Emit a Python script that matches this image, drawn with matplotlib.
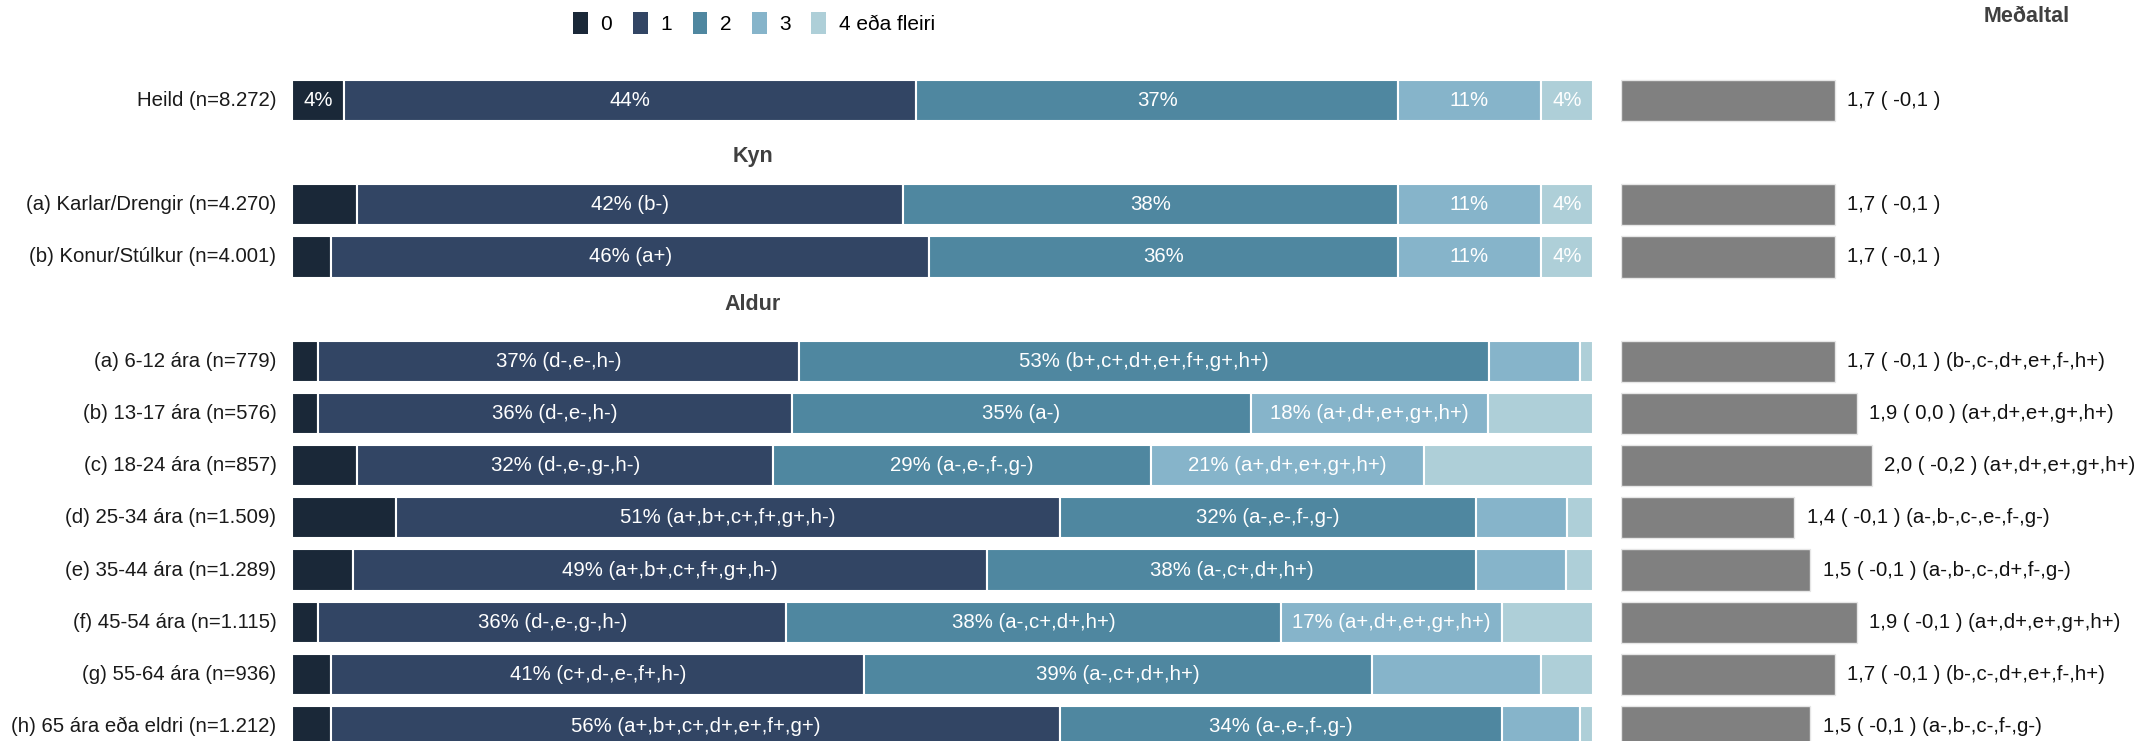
import numpy as np
import matplotlib
matplotlib.use('Agg')
import matplotlib.pyplot as plt
from matplotlib.patches import Patch

plt.rcParams['font.family'] = ['Liberation Sans', 'DejaVu Sans']

# category names (legend) and colours
cats = ['0', '1', '2', '3', '4 eða fleiri']
colors = ['#1a2838', '#324564', '#4f87a0', '#86b4ca', '#aecfd8']

row_labels = ['Heild (n=8.272)',
              '(a) Karlar/Drengir (n=4.270)', '(b) Konur/Stúlkur (n=4.001)',
              '(a) 6-12 ára (n=779)', '(b) 13-17 ára (n=576)', '(c) 18-24 ára (n=857)',
              '(d) 25-34 ára (n=1.509)', '(e) 35-44 ára (n=1.289)', '(f) 45-54 ára (n=1.115)',
              '(g) 55-64 ára (n=936)', '(h) 65 ára eða eldri (n=1.212)']
row_slots = [0, 2, 3, 5, 6, 7, 8, 9, 10, 11, 12]
headers = ['Kyn', 'Aldur']
header_slots = [1.08, 3.92]

# percentages per row, one entry per category
pct = [
    [4, 44, 37, 11, 4],
    [5, 42, 38, 11, 4],
    [3, 46, 36, 11, 4],
    [2, 37, 53, 7, 1],
    [2, 36.4, 35.3, 18.2, 8.1],
    [5, 32, 29, 21, 13],
    [8, 51, 32, 7, 2],
    [4.7, 48.7, 37.6, 6.9, 2.1],
    [2, 36, 38, 17, 7],
    [3, 41, 39, 13, 4],
    [3, 56, 34, 6, 1],
]
seg_text = [
    ['4%', '44%', '37%', '11%', '4%'],
    ['', '42% (b-)', '38%', '11%', '4%'],
    ['', '46% (a+)', '36%', '11%', '4%'],
    ['', '37% (d-,e-,h-)', '53% (b+,c+,d+,e+,f+,g+,h+)', '', ''],
    ['', '36% (d-,e-,h-)', '35% (a-)', '18% (a+,d+,e+,g+,h+)', ''],
    ['', '32% (d-,e-,g-,h-)', '29% (a-,e-,f-,g-)', '21% (a+,d+,e+,g+,h+)', ''],
    ['', '51% (a+,b+,c+,f+,g+,h-)', '32% (a-,e-,f-,g-)', '', ''],
    ['', '49% (a+,b+,c+,f+,g+,h-)', '38% (a-,c+,d+,h+)', '', ''],
    ['', '36% (d-,e-,g-,h-)', '38% (a-,c+,d+,h+)', '17% (a+,d+,e+,g+,h+)', ''],
    ['', '41% (c+,d-,e-,f+,h-)', '39% (a-,c+,d+,h+)', '', ''],
    ['', '56% (a+,b+,c+,d+,e+,f+,g+)', '34% (a-,e-,f-,g-)', '', ''],
]

# means (bar length) and their labels
means = [1.74, 1.74, 1.74, 1.74, 1.92, 2.04, 1.41, 1.54, 1.92, 1.74, 1.54]
mean_text = ['1,7 ( -0,1 )', '1,7 ( -0,1 )', '1,7 ( -0,1 )',
             '1,7 ( -0,1 ) (b-,c-,d+,e+,f-,h+)', '1,9 ( 0,0 ) (a+,d+,e+,g+,h+)',
             '2,0 ( -0,2 ) (a+,d+,e+,g+,h+)', '1,4 ( -0,1 ) (a-,b-,c-,e-,f-,g-)',
             '1,5 ( -0,1 ) (a-,b-,c-,d+,f-,g-)', '1,9 ( -0,1 ) (a+,d+,e+,g+,h+)',
             '1,7 ( -0,1 ) (b-,c-,d+,e+,f-,h+)', '1,5 ( -0,1 ) (a-,b-,c-,f-,g-)']

W, H = 2149, 741
fig = plt.figure(figsize=(W / 100, H / 100), dpi=100)

# axes positions in pixels -> figure fractions
top_px, bot_px = 74.4, 752.6
ax = fig.add_axes([292 / W, 1 - bot_px / H, (1593 - 292) / W, (bot_px - top_px) / H])
axm = fig.add_axes([1621 / W, 1 - bot_px / H, (W - 1621) / W, (bot_px - top_px) / H])

bh = 0.79
fs = 14.7
pct = np.array(pct, dtype=float)
left = np.zeros(len(row_slots))
for j in range(len(cats)):
    ax.barh(row_slots, pct[:, j], left=left, height=bh, color=colors[j],
            edgecolor='white', linewidth=1.5)
    for i, s in enumerate(row_slots):
        if seg_text[i][j]:
            ax.text(left[i] + pct[i, j] / 2, s, seg_text[i][j], ha='center', va='center',
                    color='white', fontsize=fs)
    left += pct[:, j]

for i, s in enumerate(row_slots):
    ax.text(-1.2, s, row_labels[i], ha='right', va='center', fontsize=fs, color='#1a1a1a')
for h, s in zip(headers, header_slots):
    ax.text(35.4, s, h, ha='center', va='center', fontsize=15.5, fontweight='bold', color='#404040')

ax.set_xlim(0, 100)
ax.set_ylim(12.5, -0.5)
ax.axis('off')

axm.barh(row_slots, means, height=bh, color='#808080', edgecolor='#e6e6e6', linewidth=1)
for i, s in enumerate(row_slots):
    axm.text(means[i] + 0.1, s, mean_text[i], ha='left', va='center', fontsize=fs, color='#111111')
axm.set_xlim(0, (W - 1621) / 123)
axm.set_ylim(12.5, -0.5)
axm.axis('off')

fig.text(2027 / W, 1 - 17 / H, 'Meðaltal', ha='center', va='center', fontsize=15.5,
         fontweight='bold', color='#404040')

handles = [Patch(facecolor=c, edgecolor='none') for c in colors]
fig.legend(handles, cats, loc='center', bbox_to_anchor=(754 / W, 1 - 23 / H), ncol=5,
           frameon=False, fontsize=15, handlelength=0.7, handleheight=1.3,
           handletextpad=0.6, columnspacing=1.0)

fig.savefig('out.png', dpi=100)
